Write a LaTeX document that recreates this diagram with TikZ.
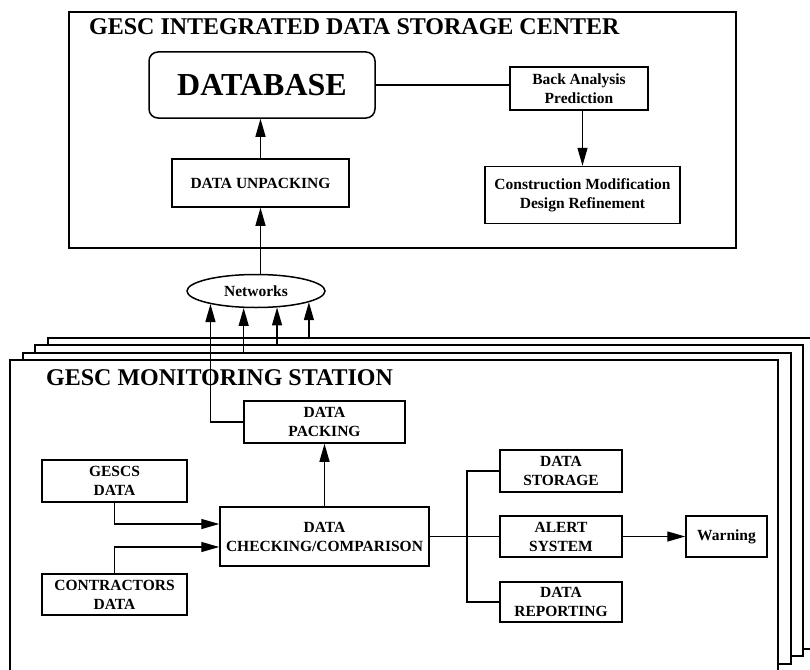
\documentclass[tikz,border=0pt]{standalone}
\usepackage{fontspec}
\setmainfont{Liberation Serif}
\usetikzlibrary{arrows.meta,shapes.geometric}
\tikzset{
    box_node/.style = {draw=black, line width=1.5pt, fill=white, align=center, inner sep=2pt, font=\fontsize{15.5}{19}\selectfont\bfseries},
    db_node/.style = {box_node, rounded corners=9pt, font=\fontsize{32}{36}\selectfont\bfseries},
    net_node/.style = {box_node, ellipse},
    frame_node/.style = {draw=black, line width=2pt, fill=white, inner sep=0pt},
    title_node/.style = {anchor=base west, inner sep=0pt, font=\fontsize{24}{28}\selectfont\bfseries},
    link/.style = {line width=1.3pt},
    arr/.style = {link, -{Triangle[length=18pt,width=10pt]}}
}

\begin{document}
\begin{tikzpicture}[x=1pt, y=-1pt]
\useasboundingbox (0,0) rectangle (810,669);

% storage center
\node[frame_node, minimum width=667pt, minimum height=236pt] (center) at (402.5,130) {};
\node[title_node] (ctitle) at (89,35) {GESC INTEGRATED DATA STORAGE CENTER};
\node[db_node, minimum width=226pt, minimum height=66pt] (db) at (262,85) {DATABASE};
\node[box_node, minimum width=138pt, minimum height=43pt] (ba) at (579,88.5) {Back Analysis\\Prediction};
\node[box_node, minimum width=195pt, minimum height=57pt] (cm) at (582.5,195) {Construction Modification\\Design Refinement};
\node[box_node, minimum width=177pt, minimum height=48pt] (up) at (260.5,183) {DATA UNPACKING};
\node[net_node, minimum width=138pt, minimum height=33pt] (net) at (256,291) {Networks};

\draw[link] (db.east) -- (db.east -| ba.west);
\draw[arr] (cm.north |- ba.south) -- (cm.north);
\draw[arr] (up.north) -- (up.north |- db.south);
\draw[arr] (up.south |- net.north) -- (up.south);

% monitoring stations
\begin{scope}
\clip (0,0) rectangle (810,669);
\foreach \k in {3,2,1,0}
    \node[frame_node, minimum width=768pt, minimum height=311pt] (st\k) at ({394+12.7*\k},{515.5-7.3*\k}) {};
\end{scope}
\node[title_node] (stitle) at (46,385) {GESC MONITORING STATION};

\node[box_node, minimum width=161pt, minimum height=42pt] (pk) at (324.5,422) {DATA\\PACKING};
\node[box_node, minimum width=145pt, minimum height=42pt] (gd) at (114.5,481) {GESCS\\DATA};
\node[box_node, minimum width=145pt, minimum height=41pt] (cd) at (114.5,594.5) {CONTRACTORS\\DATA};
\node[box_node, minimum width=209pt, minimum height=59pt] (ck) at (324.5,536.5) {DATA\\CHECKING/COMPARISON};
\node[box_node, minimum width=122pt, minimum height=42pt] (ds) at (561,471) {DATA\\STORAGE};
\node[box_node, minimum width=122pt, minimum height=41pt] (as) at (561,536.5) {ALERT\\SYSTEM};
\node[box_node, minimum width=122pt, minimum height=40pt] (dr) at (561,602) {DATA\\REPORTING};
\node[box_node, minimum width=81pt, minimum height=41pt] (wn) at (726.5,536.5) {Warning};
\coordinate (bus) at (467,536.5);

\draw[arr] (pk.west) -| (net.196);
\draw[arr] (net.234 |- st1.north) -- (net.234);
\draw[arr] (net.322 |- st2.north) -- (net.322);
\draw[arr] (net.348 |- st3.north) -- (net.348);

\draw[arr] (ck.north) -- (pk.south);
\draw[arr] (gd.south) |- ([yshift=12.5pt]ck.west);
\draw[arr] (cd.north) |- ([yshift=-10.5pt]ck.west);
\draw[link] (ck.east) -- (as.west);
\draw[link] (ds.west) -| (bus) |- (dr.west);
\draw[arr] (as.east) -- (wn.west);
\end{tikzpicture}
\end{document}
